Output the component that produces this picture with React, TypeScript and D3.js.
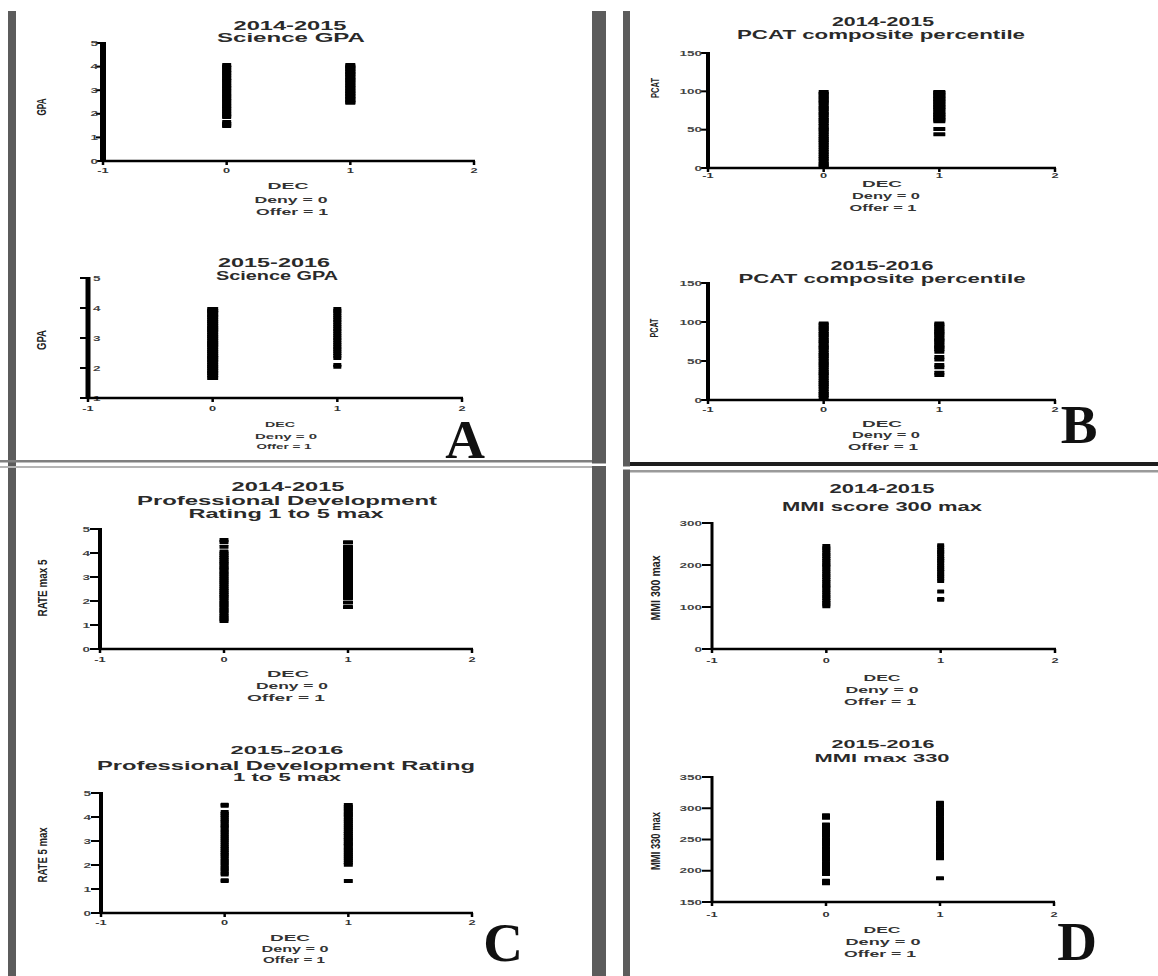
import React from 'react';
import * as d3 from 'd3';

// ---------- data ----------
const xTicks = [-1, 0, 1, 2];
const groups = [0, 1]; // Deny = 0, Offer = 1

const gpaTicks1415 = [0, 1, 2, 3, 4, 5];
const gpaTicks1516 = [1, 2, 3, 4, 5];
const pcatTicks = [0, 50, 100, 150];
const rateTicks = [0, 1, 2, 3, 4, 5];
const mmiTicks1415 = [0, 100, 200, 300];
const mmiTicks1516 = [150, 200, 250, 300, 350];

const gpa1415Deny = [4.07, 4.0, 3.95, 3.88, 3.8, 3.74, 3.67, 3.6, 3.52, 3.45, 3.4, 3.33, 3.25, 3.18, 3.1, 3.04, 2.97, 2.9, 2.82, 2.75, 2.7, 2.62, 2.55, 2.48, 2.4, 2.33, 2.27, 2.2, 2.12, 2.05, 1.98, 1.91, 1.86, 1.65, 1.58, 1.52, 1.48];
const gpa1415Offer = [4.07, 4.02, 3.96, 3.9, 3.83, 3.77, 3.7, 3.64, 3.58, 3.5, 3.44, 3.38, 3.3, 3.24, 3.17, 3.1, 3.03, 2.97, 2.9, 2.84, 2.77, 2.7, 2.64, 2.57, 2.5, 2.47];
const gpa1516Deny = [3.97, 3.9, 3.84, 3.76, 3.7, 3.62, 3.55, 3.48, 3.4, 3.33, 3.27, 3.2, 3.12, 3.05, 2.98, 2.9, 2.83, 2.77, 2.7, 2.62, 2.55, 2.48, 2.4, 2.34, 2.27, 2.2, 2.12, 2.05, 1.98, 1.9, 1.83, 1.76, 1.67];
const gpa1516Offer = [3.97, 3.9, 3.83, 3.75, 3.68, 3.6, 3.53, 3.45, 3.38, 3.3, 3.23, 3.15, 3.08, 3.0, 2.93, 2.85, 2.78, 2.7, 2.63, 2.56, 2.49, 2.41, 2.33, 2.1, 2.04];

const pcat1415Deny = [99, 97, 95, 92, 90, 87, 85, 82, 79, 77, 74, 71, 69, 66, 63, 61, 58, 55, 52, 50, 47, 44, 41, 38, 36, 33, 30, 27, 24, 21, 18, 15, 12, 9, 6, 4, 2];
const pcat1415Offer = [99, 98, 96, 94, 92, 90, 88, 86, 84, 82, 80, 78, 76, 73, 71, 69, 67, 65, 63, 61, 51, 44];
const pcat1516Deny = [98, 96, 93, 91, 88, 85, 83, 80, 77, 75, 72, 69, 67, 64, 61, 58, 56, 53, 50, 47, 45, 42, 39, 36, 34, 31, 28, 25, 22, 20, 17, 14, 11, 8, 6, 3];
const pcat1516Offer = [98, 96, 94, 91, 89, 87, 85, 83, 80, 78, 76, 74, 71, 69, 67, 65, 62, 55, 52, 45, 42, 35, 32];

const rate1415Deny = [4.54, 4.46, 4.26, 4.06, 3.98, 3.9, 3.8, 3.72, 3.63, 3.55, 3.46, 3.38, 3.3, 3.2, 3.12, 3.03, 2.95, 2.86, 2.78, 2.7, 2.6, 2.52, 2.43, 2.35, 2.26, 2.18, 2.1, 2.0, 1.92, 1.83, 1.75, 1.66, 1.58, 1.5, 1.4, 1.32, 1.24, 1.17];
const rate1415Offer = [4.45, 4.26, 4.18, 4.1, 4.0, 3.92, 3.83, 3.75, 3.66, 3.58, 3.5, 3.4, 3.32, 3.23, 3.15, 3.06, 2.98, 2.9, 2.8, 2.72, 2.63, 2.55, 2.46, 2.38, 2.3, 2.2, 2.13, 1.94, 1.75];
const rate1516Deny = [4.51, 4.47, 4.21, 4.14, 4.05, 3.97, 3.88, 3.8, 3.71, 3.63, 3.55, 3.45, 3.37, 3.28, 3.2, 3.11, 3.03, 2.95, 2.85, 2.77, 2.68, 2.6, 2.51, 2.43, 2.35, 2.25, 2.17, 2.08, 2.0, 1.91, 1.83, 1.75, 1.66, 1.6, 1.36, 1.33];
const rate1516Offer = [4.5, 4.42, 4.33, 4.25, 4.16, 4.08, 4.0, 3.9, 3.82, 3.73, 3.65, 3.56, 3.48, 3.4, 3.3, 3.22, 3.13, 3.05, 2.96, 2.88, 2.8, 2.7, 2.62, 2.53, 2.45, 2.36, 2.28, 2.2, 2.1, 2.01, 1.33];

const mmi1415Deny = [245, 240, 236, 230, 225, 221, 215, 210, 205, 200, 196, 190, 185, 180, 175, 171, 165, 160, 155, 150, 146, 140, 135, 130, 125, 121, 115, 110, 106, 102];
const mmi1415Offer = [247, 242, 236, 231, 226, 220, 215, 210, 205, 199, 194, 189, 184, 178, 173, 168, 162, 137, 119, 117];
const mmi1516Deny = [289, 285, 274, 270, 265, 260, 256, 251, 246, 242, 237, 232, 228, 223, 218, 213, 209, 204, 199, 195, 184, 180];
const mmi1516Offer = [309, 304, 299, 295, 290, 285, 281, 276, 271, 267, 262, 257, 253, 248, 243, 239, 234, 229, 225, 220, 188];

const xLabelLines = ['DEC', 'Deny = 0', 'Offer = 1'];
const titleA1 = ['2014-2015', 'Science GPA'];
const titleA2 = ['2015-2016', 'Science GPA'];
const titleB1 = ['2014-2015', 'PCAT composite percentile'];
const titleB2 = ['2015-2016', 'PCAT composite percentile'];
const titleC1 = ['2014-2015', 'Professional Development', 'Rating 1 to 5 max'];
const titleC2 = ['2015-2016', 'Professional Development Rating', '1 to 5 max'];
const titleD1 = ['2014-2015', 'MMI score 300 max'];
const titleD2 = ['2015-2016', 'MMI max 330'];
const yLabels = ['GPA', 'GPA', 'PCAT', 'PCAT', 'RATE max 5', 'RATE 5 max', 'MMI 300 max', 'MMI 330 max'];
const panelLetters = ['A', 'B', 'C', 'D'];

// ---------- layout ----------
type TP = { x: number; y: number; w: number; size: number };
type Cfg = {
  xr: [number, number];
  ydom: [number, number];
  yr: [number, number];
  yTicks: number[];
  deny: number[];
  offer: number[];
  denyW: number;
  offerW: number;
  axisW: number;
  tickLen: number;
  side: 'left' | 'right';
  gap: number;
  xLabDy: number;
  title: string[];
  titlePos: TP[];
  xlabPos: TP[];
  ylab: string;
  ylabPos: { x: number; y: number; len: number; size: number; sx: number };
};

const FONT = "'Liberation Sans', Arial, Helvetica, sans-serif";
const MH = 4;

const plots: Cfg[] = [
  {
    xr: [103, 474], ydom: [0, 5], yr: [161, 43], yTicks: gpaTicks1415,
    deny: gpa1415Deny, offer: gpa1415Offer, denyW: 9, offerW: 10,
    axisW: 6, tickLen: 7, side: 'left', gap: 5, xLabDy: 12,
    title: titleA1,
    titlePos: [{ x: 290, y: 30, w: 113, size: 13 }, { x: 291, y: 42, w: 148, size: 13 }],
    xlabPos: [{ x: 288, y: 189, w: 41, size: 9.5 }, { x: 291, y: 203, w: 73, size: 9.5 }, { x: 292, y: 215, w: 72, size: 9.5 }],
    ylab: yLabels[0], ylabPos: { x: 42, y: 107, len: 17, size: 7, sx: 1.8 },
  },
  {
    xr: [88, 462], ydom: [1, 5], yr: [398, 278], yTicks: gpaTicks1516,
    deny: gpa1516Deny, offer: gpa1516Offer, denyW: 11, offerW: 8,
    axisW: 5, tickLen: 8, side: 'right', gap: 5, xLabDy: 13,
    title: titleA2,
    titlePos: [{ x: 274, y: 267, w: 112, size: 12.5 }, { x: 277, y: 280, w: 122, size: 12 }],
    xlabPos: [{ x: 280, y: 427, w: 30, size: 8 }, { x: 286, y: 439, w: 62, size: 8 }, { x: 284, y: 449, w: 55, size: 8 }],
    ylab: yLabels[1], ylabPos: { x: 42, y: 340, len: 20, size: 7, sx: 1.8 },
  },
  {
    xr: [708, 1055], ydom: [0, 150], yr: [168, 53], yTicks: pcatTicks,
    deny: pcat1415Deny, offer: pcat1415Offer, denyW: 10, offerW: 12,
    axisW: 4, tickLen: 8, side: 'left', gap: 6, xLabDy: 10,
    title: titleB1,
    titlePos: [{ x: 883, y: 26, w: 102, size: 12.5 }, { x: 881, y: 39, w: 288, size: 12.5 }],
    xlabPos: [{ x: 882, y: 187, w: 40, size: 9.5 }, { x: 886, y: 199, w: 68, size: 9.5 }, { x: 883, y: 211, w: 67, size: 9.5 }],
    ylab: yLabels[2], ylabPos: { x: 655, y: 88, len: 20, size: 7.5, sx: 1.5 },
  },
  {
    xr: [708, 1055], ydom: [0, 150], yr: [400, 283], yTicks: pcatTicks,
    deny: pcat1516Deny, offer: pcat1516Offer, denyW: 10, offerW: 10,
    axisW: 4, tickLen: 8, side: 'left', gap: 6, xLabDy: 12,
    title: titleB2,
    titlePos: [{ x: 882, y: 270, w: 103, size: 12.5 }, { x: 882, y: 283, w: 287, size: 12.5 }],
    xlabPos: [{ x: 882, y: 427, w: 40, size: 9.5 }, { x: 886, y: 438, w: 68, size: 9.5 }, { x: 883, y: 450, w: 70, size: 9.5 }],
    ylab: yLabels[3], ylabPos: { x: 654, y: 328, len: 19, size: 7.5, sx: 1.5 },
  },
  {
    xr: [100, 472], ydom: [0, 5], yr: [649, 529], yTicks: rateTicks,
    deny: rate1415Deny, offer: rate1415Offer, denyW: 9, offerW: 10,
    axisW: 4, tickLen: 10, side: 'left', gap: 10, xLabDy: 13,
    title: titleC1,
    titlePos: [{ x: 288, y: 491, w: 113, size: 12.5 }, { x: 287, y: 505, w: 300, size: 12.5 }, { x: 286, y: 518, w: 195, size: 12.5 }],
    xlabPos: [{ x: 288, y: 677, w: 42, size: 9.5 }, { x: 292, y: 689, w: 72, size: 9.5 }, { x: 286, y: 701, w: 78, size: 9.5 }],
    ylab: yLabels[4], ylabPos: { x: 43, y: 588, len: 57, size: 7, sx: 1.7 },
  },
  {
    xr: [101, 472], ydom: [0, 5], yr: [913, 793], yTicks: rateTicks,
    deny: rate1516Deny, offer: rate1516Offer, denyW: 8, offerW: 9,
    axisW: 4, tickLen: 10, side: 'left', gap: 10, xLabDy: 12,
    title: titleC2,
    titlePos: [{ x: 287, y: 754, w: 113, size: 11.5 }, { x: 286, y: 770, w: 378, size: 12 }, { x: 287, y: 781, w: 108, size: 11.5 }],
    xlabPos: [{ x: 290, y: 941, w: 40, size: 9 }, { x: 295, y: 952, w: 67, size: 9 }, { x: 294, y: 963, w: 62, size: 9 }],
    ylab: yLabels[5], ylabPos: { x: 43, y: 855, len: 55, size: 7, sx: 1.7 },
  },
  {
    xr: [712, 1055], ydom: [0, 300], yr: [649, 523], yTicks: mmiTicks1415,
    deny: mmi1415Deny, offer: mmi1415Offer, denyW: 8, offerW: 7,
    axisW: 3, tickLen: 10, side: 'left', gap: 10, xLabDy: 14,
    title: titleD1,
    titlePos: [{ x: 882, y: 493, w: 105, size: 12.5 }, { x: 882, y: 511, w: 200, size: 12.5 }],
    xlabPos: [{ x: 882, y: 681, w: 37, size: 9.5 }, { x: 882, y: 693, w: 73, size: 9.5 }, { x: 880, y: 705, w: 72, size: 9.5 }],
    ylab: yLabels[6], ylabPos: { x: 656, y: 588, len: 65, size: 7.5, sx: 1.6 },
  },
  {
    xr: [712, 1054], ydom: [150, 350], yr: [902, 777], yTicks: mmiTicks1516,
    deny: mmi1516Deny, offer: mmi1516Offer, denyW: 8, offerW: 8,
    axisW: 3, tickLen: 10, side: 'left', gap: 10, xLabDy: 15,
    title: titleD2,
    titlePos: [{ x: 883, y: 748, w: 103, size: 11.5 }, { x: 882, y: 762, w: 135, size: 11.5 }],
    xlabPos: [{ x: 882, y: 933, w: 37, size: 9.5 }, { x: 883, y: 945, w: 75, size: 9.5 }, { x: 880, y: 957, w: 72, size: 9.5 }],
    ylab: yLabels[7], ylabPos: { x: 656, y: 841, len: 58, size: 7.5, sx: 1.6 },
  },
];

const letterPos = [
  { x: 465, y: 458 },
  { x: 1079, y: 443 },
  { x: 503, y: 961 },
  { x: 1077, y: 960 },
];

function Plot({ c }: { c: Cfg }) {
  const x = d3.scaleLinear().domain([-1, 2]).range(c.xr);
  const y = d3.scaleLinear().domain(c.ydom).range(c.yr);
  const ax = x(-1);
  const y0 = y(c.ydom[0]);
  const yTop = y(c.ydom[1]);
  const series = [c.deny, c.offer];
  return (
    <g>
      {series.map((vals, gi) => {
        const w = gi === 0 ? c.denyW : c.offerW;
        const cx = x(groups[gi]);
        return vals.map((v, i) => (
          <rect key={`${gi}-${i}`} x={cx - w / 2} y={y(v) - MH / 2} width={w} height={MH} rx={0.5} fill="#000" />
        ));
      })}
      {/* y axis */}
      <line x1={ax} x2={ax} y1={yTop - 1} y2={y0 + 1} stroke="#000" strokeWidth={c.axisW} />
      {c.yTicks.map((t) => (
        <g key={`yt${t}`}>
          <line x1={ax - c.tickLen} x2={ax} y1={y(t)} y2={y(t)} stroke="#000" strokeWidth={2} />
          <text
            transform={`translate(${c.side === 'left' ? ax - c.gap : ax + c.gap},${y(t)}) scale(1.8,1)`}
            textAnchor={c.side === 'left' ? 'end' : 'start'}
            dy="0.35em"
            fontSize={7.5}
            fontFamily={FONT}
            fontWeight="bold"
            fill="#444"
          >
            {String(t)}
          </text>
        </g>
      ))}
      {/* x axis */}
      <line x1={ax} x2={x(2) + 1} y1={y0} y2={y0} stroke="#000" strokeWidth={2.5} />
      {xTicks.map((t) => (
        <g key={`xt${t}`}>
          <line x1={x(t)} x2={x(t)} y1={y0} y2={y0 + 4} stroke="#000" strokeWidth={2.5} />
          <text
            transform={`translate(${x(t)},${y0 + c.xLabDy}) scale(1.6,1)`}
            textAnchor="middle"
            fontSize={8}
            fontFamily={FONT}
            fontWeight="bold"
            fill="#333"
          >
            {String(t)}
          </text>
        </g>
      ))}
      {/* titles */}
      {c.title.map((s, i) => (
        <text
          key={`t${i}`}
          x={c.titlePos[i].x}
          y={c.titlePos[i].y}
          textAnchor="middle"
          textLength={c.titlePos[i].w}
          lengthAdjust="spacingAndGlyphs"
          fontSize={c.titlePos[i].size}
          fontFamily={FONT}
          fontWeight="bold"
          fill="#2a2a2a"
        >
          {s}
        </text>
      ))}
      {/* x label */}
      {xLabelLines.map((s, i) => (
        <text
          key={`xl${i}`}
          x={c.xlabPos[i].x}
          y={c.xlabPos[i].y}
          textAnchor="middle"
          textLength={c.xlabPos[i].w}
          lengthAdjust="spacingAndGlyphs"
          fontSize={c.xlabPos[i].size}
          fontFamily={FONT}
          fontWeight="bold"
          fill="#333"
        >
          {s}
        </text>
      ))}
      {/* y label */}
      <text
        transform={`translate(${c.ylabPos.x},${c.ylabPos.y}) scale(${c.ylabPos.sx},1) rotate(-90)`}
        textAnchor="middle"
        dy="0.35em"
        textLength={c.ylabPos.len}
        lengthAdjust="spacingAndGlyphs"
        fontSize={c.ylabPos.size}
        fontFamily={FONT}
        fontWeight="bold"
        fill="#222"
      >
        {c.ylab}
      </text>
    </g>
  );
}

export default function App() {
  return (
    <svg
      width={1158}
      height={976}
      viewBox="0 0 1158 976"
      style={{ position: 'absolute', left: 0, top: 0, display: 'block', background: '#fff' }}
    >
      <rect x={0} y={0} width={1158} height={976} fill="#fff" />
      {/* frame */}
      <rect x={8} y={11} width={8} height={965} fill="#5c5c5c" />
      <rect x={592} y={11} width={14} height={965} fill="#5c5c5c" />
      <rect x={623} y={11} width={7} height={965} fill="#5c5c5c" />
      <rect x={0} y={460} width={592} height={2.5} fill="#808080" />
      <rect x={0} y={466} width={592} height={2} fill="#b5b5b5" />
      <rect x={592} y={463.5} width={14} height={2.5} fill="#fff" />
      <rect x={630} y={462} width={528} height={4} fill="#1e1e1e" />
      <rect x={630} y={470} width={528} height={2.5} fill="#9a9a9a" />
      <rect x={623} y={466.5} width={7} height={3} fill="#fff" />
      {plots.map((c, i) => (
        <Plot key={i} c={c} />
      ))}
      {panelLetters.map((l, i) => (
        <text
          key={l}
          x={letterPos[i].x}
          y={letterPos[i].y}
          textAnchor="middle"
          fontSize={55}
          fontFamily="'Liberation Serif', 'Times New Roman', serif"
          fontWeight="bold"
          fill="#111"
        >
          {l}
        </text>
      ))}
    </svg>
  );
}
